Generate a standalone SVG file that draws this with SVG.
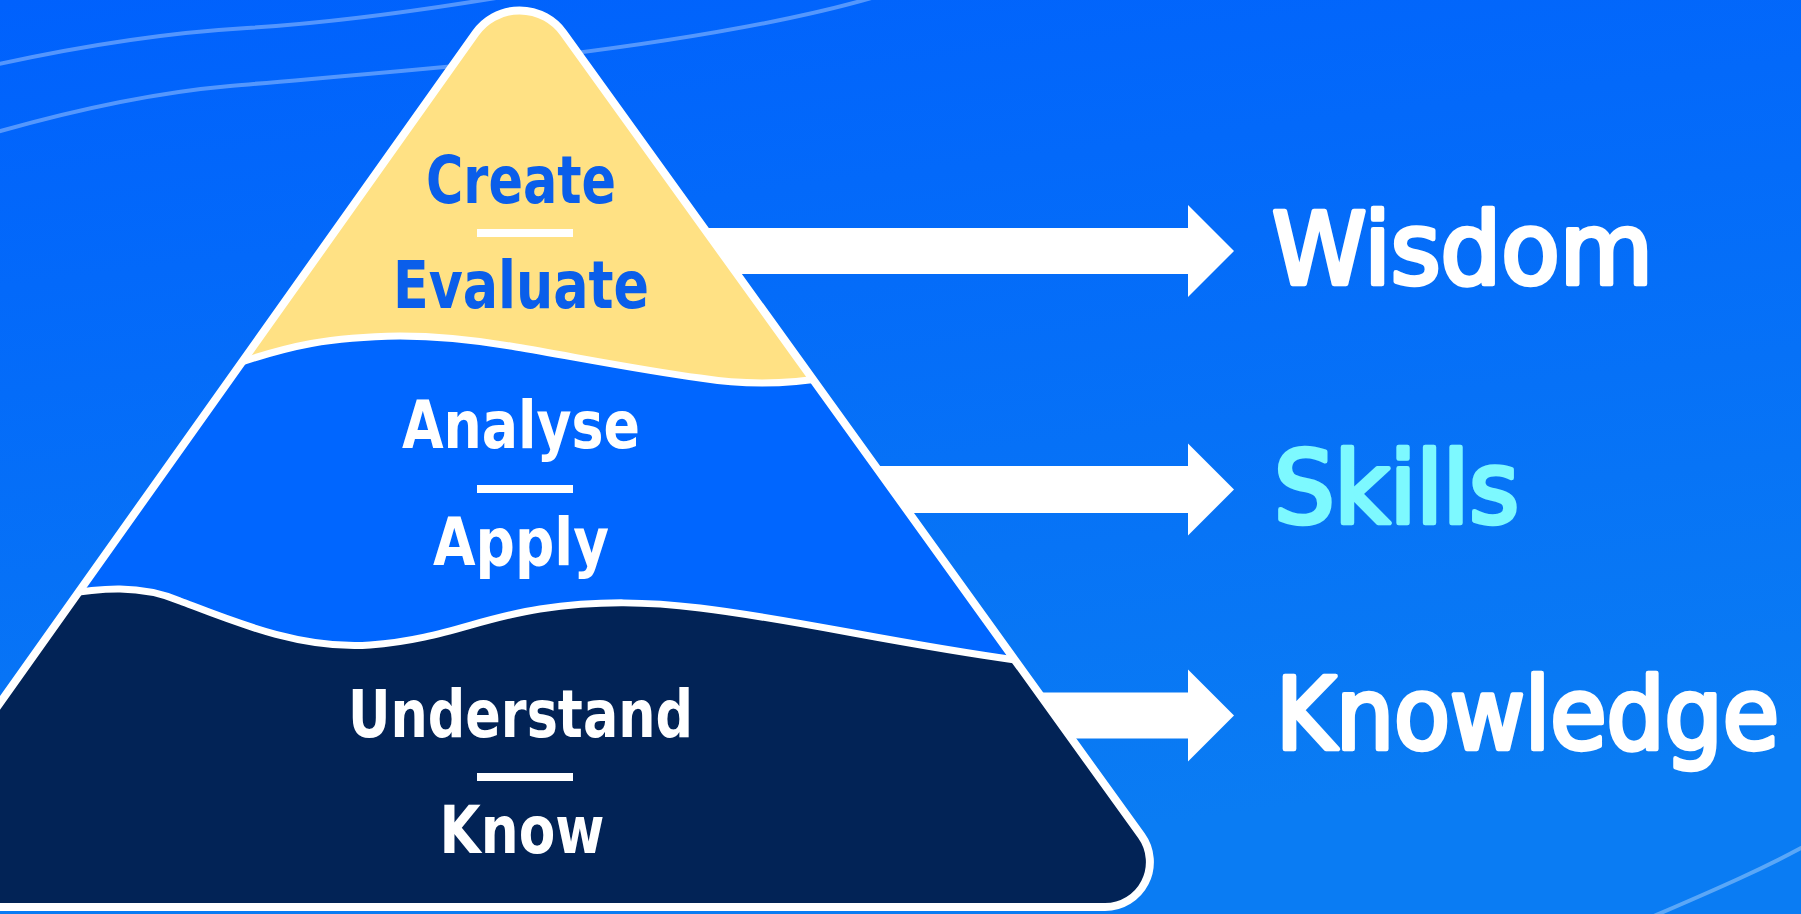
<svg xmlns="http://www.w3.org/2000/svg" width="1801" height="914" viewBox="0 0 1801 914">
  <defs>
    <linearGradient id="bg" x1="0" y1="0" x2="0.25" y2="1">
      <stop offset="0" stop-color="#0061FD"/>
      <stop offset="1" stop-color="#0A7CF3"/>
    </linearGradient>
    <clipPath id="pyrClip">
      <path d="M -145 907 L 1105 907 A 45 45 0 0 0 1141.4 835.7 L 563.5 33 A 54 54 0 0 0 475.5 33.2 Z"/>
    </clipPath>
    <style>
      .bgline { fill: none; stroke: #FFFFFF; stroke-opacity: 0.33; stroke-width: 4; }
      .wave { fill: none; stroke: #FFFFFF; stroke-width: 7; }
      .outline { fill: none; stroke: #FFFFFF; stroke-width: 8; stroke-linejoin: round; }
      .arrow { fill: #FFFFFF; }
      .bar { fill: #FFFFFF; }
      .lvl { font-family: "DejaVu Sans Condensed", "DejaVu Sans", sans-serif; font-weight: bold; font-size: 66px; text-anchor: middle; }
      .lbl { font-family: "DejaVu Sans Condensed", "DejaVu Sans", sans-serif; font-weight: normal; font-size: 100px; stroke-width: 4.5; stroke-linejoin: round; }
      .white { fill: #FFFFFF; }
      .lbl.white { stroke: #FFFFFF; }
      .bluetxt { fill: #0A5EEA; }
      .cyan { fill: #7DF9FF; stroke: #7DF9FF; }
    </style>
  </defs>

  <rect x="0" y="0" width="1801" height="914" fill="url(#bg)"/>
  <g id="background-lines">
    <path class="bgline" d="M -10 66 C 80 46, 160 33, 247 28 C 330 23, 420 11, 520 -6"/>
    <path class="bgline" d="M -10 134 C 70 111, 150 93, 230 86 C 330 77, 450 68, 560 55 C 680 40, 800 20, 885 -6"/>
    <path class="bgline" d="M 1640 922 C 1700 896, 1760 871, 1812 842"/>
  </g>

  <g id="connectors">
    <polygon class="arrow" points="680,228 1188,228 1188,205 1234,251 1188,297 1188,274 680,274"/>
    <polygon class="arrow" points="850,466 1188,466 1188,443.5 1234,489.5 1188,535.5 1188,513 850,513"/>
    <polygon class="arrow" points="1010,692.5 1188,692.5 1188,669.5 1234,715.5 1188,761.5 1188,738.5 1010,738.5"/>
  </g>

  <g id="pyramid">
    <g clip-path="url(#pyrClip)">
      <g id="level-middle">
        <rect x="-200" y="0" width="1400" height="914" fill="#0066FF"/>
      </g>
      <g id="level-top">
        <path fill="#FFE184" d="M -200 -80 L 1300 -80 L 1300 377 L 830 377 C 790 384, 750 386, 700 378 C 640 370, 570 356, 516 347 C 470 339, 430 336, 400 336 C 330 337, 290 345, 230 366 L -200 366 Z"/>
      </g>
      <g id="level-bottom">
        <path fill="#022356" d="M -200 595 L 60 595 C 100 588, 140 584, 180 601 C 230 620, 300 650, 370 645 C 440 640, 480 618, 540 609 C 600 600, 650 602, 700 608 C 800 620, 900 645, 1030 662 L 1300 662 L 1300 1000 L -200 1000 Z"/>
      </g>
      <path class="wave" d="M 230 366 C 290 345, 330 337, 400 336 C 430 336, 470 339, 516 347 C 570 356, 640 370, 700 378 C 750 386, 790 384, 830 377"/>
      <path class="wave" d="M 60 595 C 100 588, 140 584, 180 601 C 230 620, 300 650, 370 645 C 440 640, 480 618, 540 609 C 600 600, 650 602, 700 608 C 800 620, 900 645, 1030 662"/>
    </g>
    <path class="outline" d="M -145 907 L 1105 907 A 45 45 0 0 0 1141.4 835.7 L 563.5 33 A 54 54 0 0 0 475.5 33.2 Z"/>

    <g id="text-top">
      <text class="lvl bluetxt" x="521" y="203" textLength="190" lengthAdjust="spacingAndGlyphs">Create</text>
      <rect class="bar" x="477" y="229" width="96" height="8"/>
      <text class="lvl bluetxt" x="521" y="308" textLength="256" lengthAdjust="spacingAndGlyphs">Evaluate</text>
    </g>
    <g id="text-middle">
      <text class="lvl white" x="521" y="448" textLength="238" lengthAdjust="spacingAndGlyphs">Analyse</text>
      <rect class="bar" x="477" y="485" width="96" height="8"/>
      <text class="lvl white" x="521" y="565" textLength="176" lengthAdjust="spacingAndGlyphs">Apply</text>
    </g>
    <g id="text-bottom">
      <text class="lvl white" x="520.5" y="737" textLength="345" lengthAdjust="spacingAndGlyphs">Understand</text>
      <rect class="bar" x="477" y="773" width="96" height="8"/>
      <text class="lvl white" x="522" y="853" textLength="165" lengthAdjust="spacingAndGlyphs">Know</text>
    </g>
  </g>

  <g id="label-wisdom">
    <text class="lbl white" x="1272" y="284" textLength="381" lengthAdjust="spacingAndGlyphs">Wisdom</text>
  </g>
  <g id="label-skills">
    <text class="lbl cyan" x="1274" y="523" textLength="245" lengthAdjust="spacingAndGlyphs">Skills</text>
  </g>
  <g id="label-knowledge">
    <text class="lbl white" x="1276" y="749" textLength="503" lengthAdjust="spacingAndGlyphs">Knowledge</text>
  </g>
</svg>
